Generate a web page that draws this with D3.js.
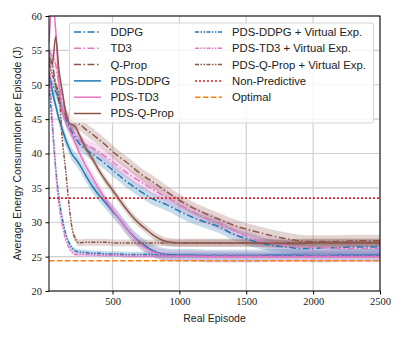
<!DOCTYPE html>
<html>
<head>
<meta charset="utf-8">
<title>Average Energy Consumption</title>
<script src="https://cdn.jsdelivr.net/npm/d3@7"></script>
<style>
  body { margin: 0; background: #fff; }
  .tick text { font-family: "Liberation Serif", "DejaVu Serif", serif; font-size: 10.5px; fill: #222; }
  .lab { font-family: "Liberation Sans", "DejaVu Sans", sans-serif; font-size: 10.5px; fill: #222; }
  .leg { font-family: "Liberation Sans", "DejaVu Sans", sans-serif; font-size: 11.3px; fill: #222; }
</style>
</head>
<body>
<script>
var episodes = [25,50,75,100,125,150,175,200,225,250,300,350,400,450,500,550,600,650,700,750,800,850,900,
  1000,1100,1200,1300,1400,1500,1600,1700,1800,1900,2000,2100,2200,2300,2400,2500];

var ddpg   = [51,50,49,48,46.5,45,44,43,42.2,41.5,40.6,39.9,39.2,38.4,37.6,36.8,36,35.3,34.6,34,33.4,33,32.6,
  31.6,30.7,30.0,29.3,28.3,27.6,27.0,26.6,26.4,26.2,26.2,26.3,26.3,26.4,26.4,26.4];
var td3    = [55,54,53,50,48,46,44.5,43.5,42.7,42,41.3,40.8,40.2,39.5,38.8,38,37.3,36.6,36,35.4,34.8,34.2,33.7,
  32.6,31.5,30.6,29.8,28.9,28.0,27.3,26.9,26.6,26.4,26.3,26.3,26.2,26.2,26.2,26.2];
var qprop  = [54,53,50,47.5,46.2,45.5,45,44.6,44.4,44.3,43.5,42.8,42,41.2,40.3,39.5,38.8,38,37.2,36.5,35.9,35.2,34.5,
  33.2,32.1,31.2,30.4,29.6,29.0,28.5,28.0,27.6,27.3,27.2,27.2,27.2,27.3,27.3,27.3];
var pdsDdpg  = [52,49,47,45,43.5,42,40.8,39.8,39.2,38.5,36.8,35.2,33.9,32.8,31.6,30.5,29.2,28.1,27.2,26.5,25.9,25.5,25.3,
  25.2,25.2,25.1,25.1,25.1,25.1,25.1,25.2,25.2,25.2,25.1,25.1,25.2,25.2,25.2,25.2];
var pdsTd3   = [56,62,58,50,46.5,44.5,43.5,42.5,41.3,40.2,38.2,36.5,34.8,33.2,31.8,30.5,29.2,28.0,27.0,26.2,25.7,25.4,25.2,
  25.1,25.1,25.0,25.0,25.0,25.0,25.0,25.0,25.0,25.0,25.0,25.0,25.0,25.0,25.0,25.0];
var pdsQprop = [53.5,53,57,52,49,46,44.5,44.2,43.8,42.8,40.8,39.2,37.5,36,34.7,33.3,32,30.8,29.8,29,28.2,27.6,27.2,
  27.0,27.0,27.0,27.0,27.0,27.0,27.0,26.9,26.9,26.9,27.0,27.0,27.0,27.0,27.0,27.0];
var veDdpg   = [50.5,44,38,33.5,30.5,28.3,27,26.2,25.8,25.7,25.6,25.5,25.5,25.4,25.4,25.4,25.3,25.3,25.3,25.3,25.3,25.2,25.2,
  25.2,25.2,25.2,25.2,25.2,25.2,25.2,25.2,25.2,25.2,25.2,25.2,25.2,25.2,25.2,25.2];
var veTd3    = [55,45,37.5,32.5,29.5,27.5,26.3,25.6,25.3,25.3,25.3,25.3,25.2,25.2,25.2,25.2,25.1,25.1,25.1,25.1,25.1,25.1,25.1,
  25.1,25.1,25.1,25.1,25.1,25.1,25.1,25.1,25.1,25.1,25.1,25.1,25.1,25.1,25.1,25.1];
var veQprop  = [53,51.5,50,48.5,42,37.5,32.5,28.9,27.5,27.0,27.1,27.1,27.1,27.1,27.0,27.0,27.0,27.0,27.0,27.0,27.0,27.0,27.0,
  27.0,27.0,27.0,27.0,27.0,27.0,27.0,27.0,27.0,27.1,27.1,27.1,27.1,27.1,27.1,27.1];
var nonPredictive = 33.5;
var optimal = 24.4;

var xTicks = [500,1000,1500,2000,2500];
var yTicks = [20,25,30,35,40,45,50,55,60];

var blue = "#1f77b4", pink = "#e377c2", brown = "#8c564b", red = "#d62728", orange = "#ff7f0e";
var dashDot = "7,2.5,1.5,2.5", dashDotDot = "4,1.5,1.5,1.5,1.5,1.5";
var dotted = "2,2", dashed = "5.5,2.4";

var series = [
  {name: "DDPG", v: ddpg, color: blue, dash: dashDot, spread: 0.9},
  {name: "TD3", v: td3, color: pink, dash: dashDot, spread: 0.9},
  {name: "Q-Prop", v: qprop, color: brown, dash: dashDot, spread: 0.9},
  {name: "PDS-DDPG", v: pdsDdpg, color: blue, dash: null, spread: 0.9},
  {name: "PDS-TD3", v: pdsTd3, color: pink, dash: null, spread: 0.8},
  {name: "PDS-Q-Prop", v: pdsQprop, color: brown, dash: null, spread: 0.6},
  {name: "PDS-DDPG + Virtual Exp.", v: veDdpg, color: blue, dash: dashDotDot, spread: 0.4},
  {name: "PDS-TD3 + Virtual Exp.", v: veTd3, color: pink, dash: dashDotDot, spread: 0.3},
  {name: "PDS-Q-Prop + Virtual Exp.", v: veQprop, color: brown, dash: dashDotDot, spread: 0.5}
];

var width = 404, height = 337,
    mLeft = 49, mRight = 380, mTop = 16, mBottom = 291;

var x = d3.scaleLinear().domain([25, 2500]).range([mLeft, mRight]);
var y = d3.scaleLinear().domain([20, 60]).range([mBottom, mTop]);

var svg = d3.select("body").append("svg").attr("width", width).attr("height", height);

svg.append("clipPath").attr("id", "clip")
  .append("rect").attr("x", mLeft).attr("y", mTop).attr("width", mRight - mLeft).attr("height", mBottom - mTop);

// grid
var grid = svg.append("g");
grid.selectAll(".gx").data(xTicks).enter().append("line")
  .attr("x1", d => x(d)).attr("x2", d => x(d)).attr("y1", mTop).attr("y2", mBottom)
  .attr("stroke", "#cfcfcf").attr("stroke-width", 1.2);
grid.selectAll(".gy").data(yTicks).enter().append("line")
  .attr("y1", d => y(d)).attr("y2", d => y(d)).attr("x1", mLeft).attr("x2", mRight)
  .attr("stroke", "#cfcfcf").attr("stroke-width", 1.2);

var plot = svg.append("g").attr("clip-path", "url(#clip)");

var line = d3.line().x((d, i) => x(episodes[i])).y(d => y(d)).curve(d3.curveMonotoneX);

series.forEach(function(s) {
  var area = d3.area().x((d, i) => x(episodes[i]))
    .y0(d => y(d - s.spread)).y1(d => y(d + s.spread)).curve(d3.curveMonotoneX);
  plot.append("path").attr("d", area(s.v)).attr("fill", s.color).attr("opacity", 0.25);
});
series.forEach(function(s) {
  plot.append("path").attr("d", line(s.v)).attr("fill", "none")
    .attr("stroke", s.color).attr("stroke-width", 1.5)
    .attr("stroke-dasharray", s.dash);
});

plot.append("line").attr("x1", mLeft).attr("x2", mRight)
  .attr("y1", y(nonPredictive)).attr("y2", y(nonPredictive))
  .attr("stroke", red).attr("stroke-width", 1.8).attr("stroke-dasharray", dotted);
plot.append("line").attr("x1", mLeft).attr("x2", mRight)
  .attr("y1", y(optimal)).attr("y2", y(optimal))
  .attr("stroke", orange).attr("stroke-width", 1.6).attr("stroke-dasharray", dashed);

// axes
var xAxis = svg.append("g").attr("transform", "translate(0," + mBottom + ")")
  .call(d3.axisBottom(x).tickValues(xTicks).tickFormat(d3.format("d")).tickSize(3.5).tickPadding(3.5));
var yAxis = svg.append("g").attr("transform", "translate(" + mLeft + ",0)")
  .call(d3.axisLeft(y).tickValues(yTicks).tickFormat(d3.format("d")).tickSize(3.5).tickPadding(3.5));
[xAxis, yAxis].forEach(function(a) { a.select(".domain").remove(); a.selectAll(".tick line").attr("stroke", "#000"); });

svg.append("rect").attr("x", mLeft).attr("y", mTop).attr("width", mRight - mLeft).attr("height", mBottom - mTop)
  .attr("fill", "none").attr("stroke", "#000").attr("stroke-width", 1);

svg.append("text").attr("class", "lab").attr("x", (mLeft + mRight) / 2).attr("y", 322)
  .attr("text-anchor", "middle").text("Real Episode");
svg.append("text").attr("class", "lab")
  .attr("transform", "translate(21," + ((mTop + mBottom) / 2) + ") rotate(-90)")
  .attr("text-anchor", "middle").text("Average Energy Consumption per Episode (J)");

// legend
var legendItems = series.map(s => ({name: s.name, color: s.color, dash: s.dash}));
legendItems.push({name: "Non-Predictive", color: red, dash: dotted});
legendItems.push({name: "Optimal", color: orange, dash: dashed});

var lg = svg.append("g");
lg.append("rect").attr("x", 69.5).attr("y", 23).attr("width", 304).attr("height", 100).attr("rx", 2.5)
  .attr("fill", "#fff").attr("fill-opacity", 0.8).attr("stroke", "#d5d5d5").attr("stroke-width", 1);

legendItems.forEach(function(d, i) {
  var col = i < 6 ? 0 : 1, row = i < 6 ? i : i - 6;
  var lx = col === 0 ? 74 : 195, tx = col === 0 ? 110.5 : 232;
  var ly = 32 + row * 16.3;
  lg.append("line").attr("x1", lx).attr("x2", lx + 27).attr("y1", ly).attr("y2", ly)
    .attr("stroke", d.color).attr("stroke-width", 1.5).attr("stroke-dasharray", d.dash);
  lg.append("text").attr("class", "leg").attr("x", tx).attr("y", ly).attr("dy", "0.35em").text(d.name);
});
</script>
</body>
</html>
